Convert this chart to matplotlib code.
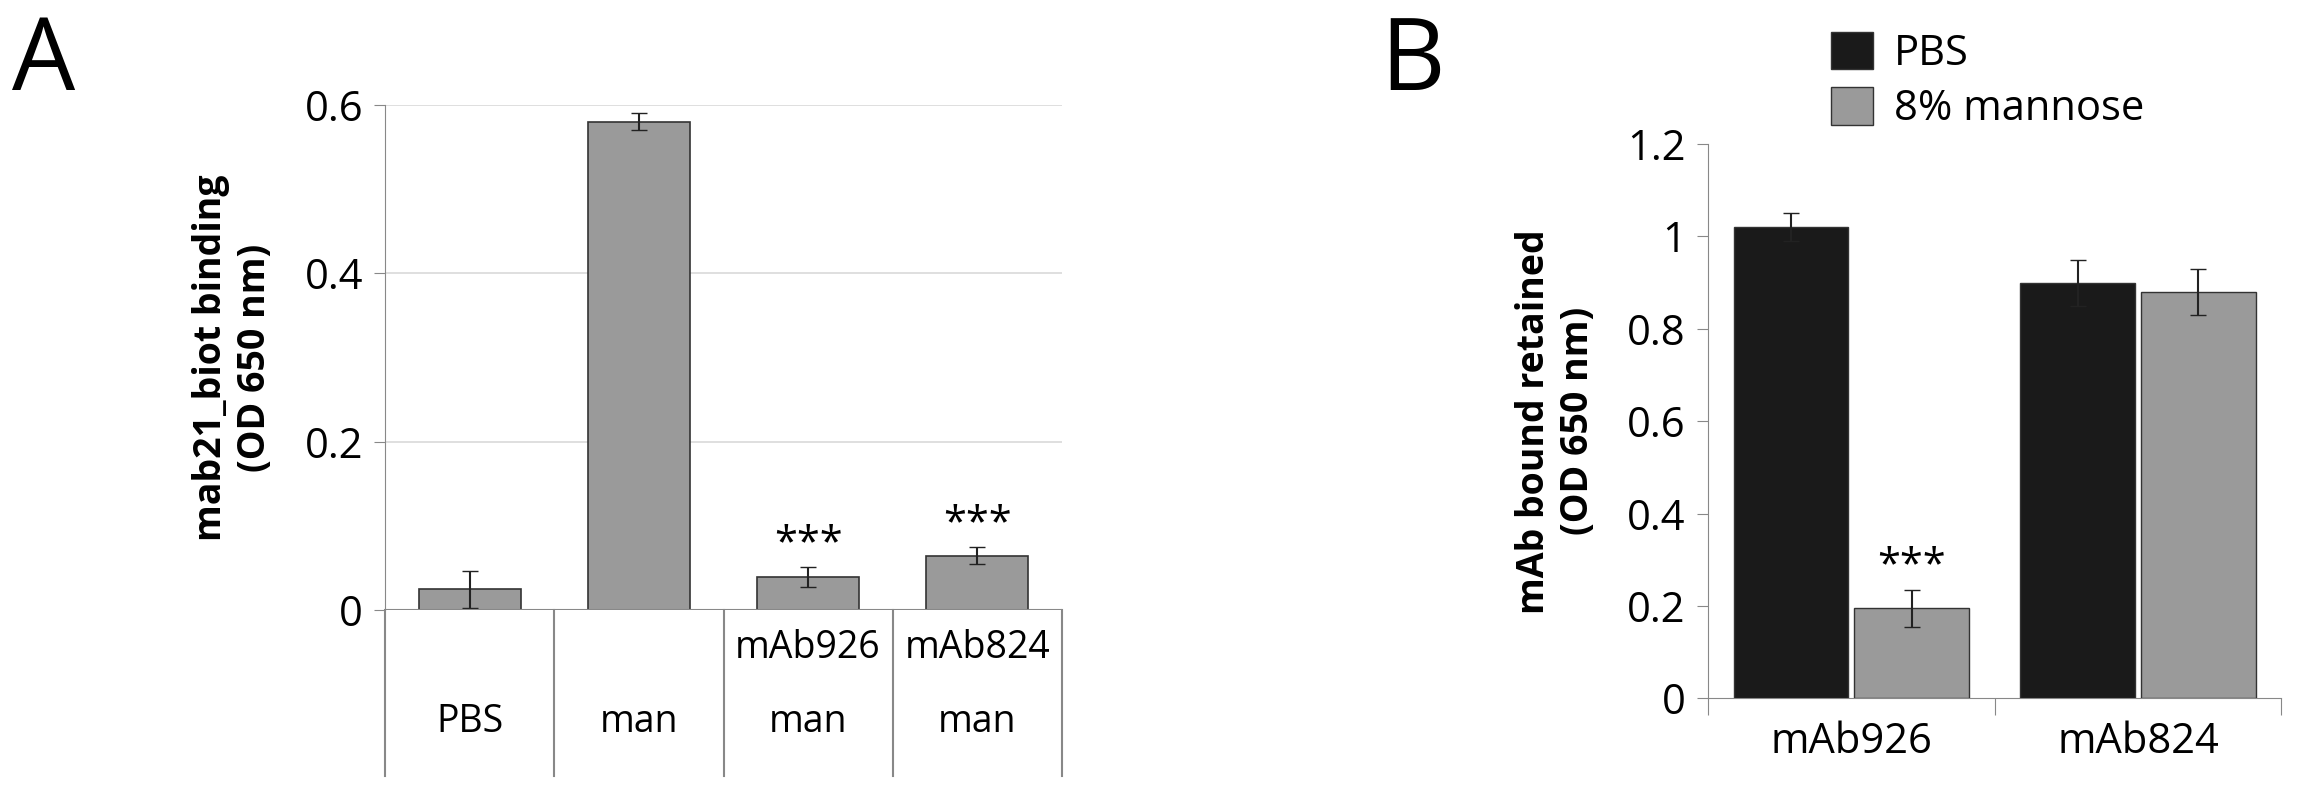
import matplotlib
matplotlib.use("Agg")
import matplotlib.pyplot as plt
import numpy as np

plt.rcParams['font.family'] = ['Open Sans', 'DejaVu Sans']

a_top = ["", "", "mAb926", "mAb824"]
a_bot = ["PBS", "man", "man", "man"]
a_vals = [0.025, 0.58, 0.04, 0.065]
a_err = [0.022, 0.01, 0.012, 0.01]
a_stars = ["", "", "***", "***"]

b_cats = ["mAb926", "mAb824"]
b_pbs = [1.02, 0.90]
b_pbs_err = [0.03, 0.05]
b_man = [0.195, 0.88]
b_man_err = [0.04, 0.05]
b_stars_man = ["***", ""]

fig = plt.figure(figsize=(23.08, 8), dpi=100)
fs = 27
fsb = 30
grey = "#9a9a9a"; black = "#1a1a1a"

# Panel A
axA = fig.add_axes([0.167, 0.237, 0.293, 0.632])
x = np.arange(len(a_vals))
axA.bar(x, a_vals, width=0.6, color=grey, edgecolor="#333333", linewidth=1.2, zorder=3)
axA.errorbar(x, a_vals, yerr=a_err, fmt="none", ecolor="#222222", capsize=6, elinewidth=1.5, zorder=4, clip_on=False)
for xi, v, e, s in zip(x, a_vals, a_err, a_stars):
    if s:
        axA.text(xi, v + e + 0.002, s, ha="center", va="bottom", fontsize=fsb)
axA.set_xlim(-0.5, 3.5)
axA.set_ylim(0, 0.6)
axA.set_yticks([0, 0.2, 0.4, 0.6])
axA.set_yticklabels(["0", "0.2", "0.4", "0.6"])
axA.yaxis.grid(True, color="#d9d9d9", linewidth=1.2, zorder=0)
axA.set_xticks([])
for s in ["top", "right", "bottom"]:
    axA.spines[s].set_visible(False)
axA.spines["left"].set_color("#888888")
axA.axhline(0, color="#888888", linewidth=1.5, zorder=5)
axA.tick_params(axis="y", labelsize=fsb, length=8, color="#888888", pad=8)
axA.set_ylabel("mab21_biot binding\n(OD 650 nm)", fontsize=fs, fontweight="bold", labelpad=22)
for b in np.arange(-0.5, 4.0, 1.0):
    axA.plot([b, b], [0, -0.197], color="#888888", linewidth=1.5, clip_on=False)
for xi, t, bt in zip(x, a_top, a_bot):
    if t:
        axA.text(xi, -0.045, t, ha="center", va="center", fontsize=fs)
    axA.text(xi, -0.132, bt, ha="center", va="center", fontsize=fs)

# Panel B
axB = fig.add_axes([0.740, 0.127, 0.2485, 0.693])
xb = np.arange(len(b_cats))
w = 0.4
axB.bar(xb - w/2 - 0.01, b_pbs, width=w, color=black, edgecolor="#333333", label="PBS", zorder=3)
axB.bar(xb + w/2 + 0.01, b_man, width=w, color=grey, edgecolor="#333333", label="8% mannose", zorder=3)
axB.errorbar(xb - w/2 - 0.01, b_pbs, yerr=b_pbs_err, fmt="none", ecolor="#222222", capsize=6, elinewidth=1.5, zorder=4)
axB.errorbar(xb + w/2 + 0.01, b_man, yerr=b_man_err, fmt="none", ecolor="#222222", capsize=6, elinewidth=1.5, zorder=4)
for xi, v, e, s in zip(xb, b_man, b_man_err, b_stars_man):
    if s:
        axB.text(xi + w/2 + 0.01, v + e + 0.005, s, ha="center", va="bottom", fontsize=fsb)
axB.set_xlim(-0.5, 1.5)
axB.set_ylim(0, 1.2)
axB.set_yticks(np.arange(0, 1.21, 0.2))
axB.set_yticklabels(["0", "0.2", "0.4", "0.6", "0.8", "1", "1.2"])
axB.set_xticks([-0.5, 0.5, 1.5], minor=False)
axB.set_xticklabels([])
axB.set_xticks(xb, minor=True)
axB.set_xticklabels(b_cats, minor=True)
axB.tick_params(axis="x", which="minor", length=0, labelsize=fsb, pad=16)
axB.tick_params(axis="x", which="major", length=12, color="#888888")
axB.tick_params(axis="y", labelsize=fsb, length=8, color="#888888", pad=8)
for s in ["top", "right"]:
    axB.spines[s].set_visible(False)
axB.spines["left"].set_color("#888888")
axB.spines["bottom"].set_color("#888888")
axB.set_ylabel("mAb bound retained\n(OD 650 nm)", fontsize=fs, fontweight="bold", labelpad=22)
axB.legend(loc="upper left", bbox_to_anchor=(0.15, 1.27), frameon=False, fontsize=fsb,
           handlelength=1.0, handleheight=1.0, labelspacing=0.3, handletextpad=0.5)

fig.text(0.005, 0.92, "A", fontsize=72, va="center")
fig.text(0.598, 0.92, "B", fontsize=72, va="center")

fig.savefig("out.png", dpi=100)
